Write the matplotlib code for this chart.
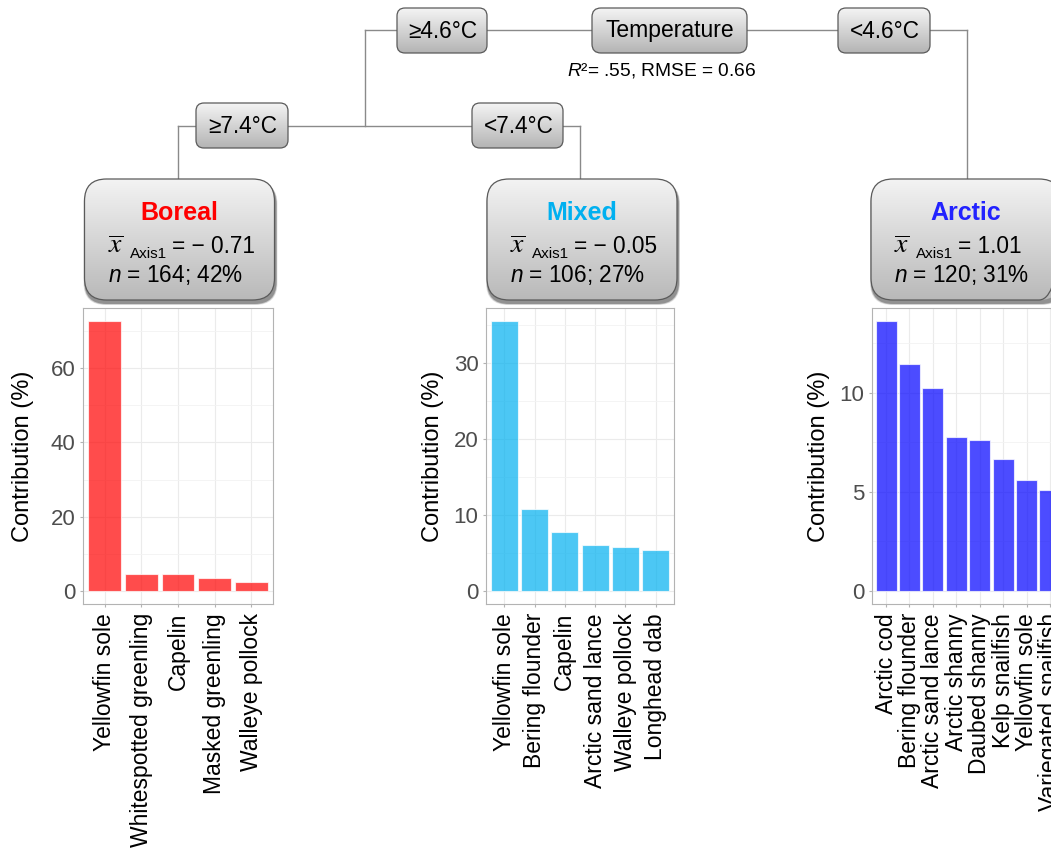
import numpy as np
import matplotlib
matplotlib.use("Agg")
import matplotlib.pyplot as plt
from matplotlib.patches import FancyBboxPatch
from matplotlib.ticker import MultipleLocator

plt.rcParams['font.family'] = ['Liberation Sans', 'DejaVu Sans']
plt.rcParams['mathtext.fontset'] = 'custom'
plt.rcParams['mathtext.rm'] = 'Liberation Sans'
plt.rcParams['mathtext.it'] = 'Liberation Sans:italic'

# species contributions per temperature group
boreal_species = ["Yellowfin sole", "Whitespotted greenling", "Capelin",
                  "Masked greenling", "Walleye pollock"]
boreal_contrib = [72.7, 4.6, 4.4, 3.3, 2.3]

mixed_species = ["Yellowfin sole", "Bering flounder", "Capelin",
                 "Arctic sand lance", "Walleye pollock", "Longhead dab"]
mixed_contrib = [35.5, 10.8, 7.7, 6.0, 5.7, 5.3]

arctic_species = ["Arctic cod", "Bering flounder", "Arctic sand lance",
                  "Arctic shanny", "Daubed shanny", "Kelp snailfish",
                  "Yellowfin sole", "Variegated snailfish"]
arctic_contrib = [13.6, 11.45, 10.25, 7.75, 7.6, 6.65, 5.6, 5.1]

group_names = ["Boreal", "Mixed", "Arctic"]
group_colors = ["#ff0000", "#00b0f0", "#2222ff"]
bar_colors = ["#ff0000", "#00b0f0", "#0000ff"]
group_means = ["= \u2212 0.71", "= \u2212 0.05", "= 1.01"]
group_n = ["164; 42%", "106; 27%", "120; 31%"]

split_labels = ["\u22654.6\u00b0C", "<4.6\u00b0C", "\u22657.4\u00b0C", "<7.4\u00b0C"]
fit_text = "$R$\u00b2= .55, RMSE = 0.66"

W, H = 1051, 848
fig = plt.figure(figsize=(W / 100, H / 100), dpi=100)
fig.patch.set_facecolor("white")

# overlay in pixel coordinates (y downwards) for the tree
tree = fig.add_axes([0, 0, 1, 1])
tree.set_xlim(0, W)
tree.set_ylim(H, 0)
tree.axis("off")

line_kw = dict(color="#8a8a8a", lw=1.0, zorder=1)
tree.plot([365, 967], [30, 30], **line_kw)
tree.plot([365, 365], [30, 126], **line_kw)
tree.plot([967, 967], [30, 182], **line_kw)
tree.plot([178, 580], [126, 126], **line_kw)
tree.plot([178, 178], [126, 182], **line_kw)
tree.plot([580, 580], [126, 182], **line_kw)


def gradient_box(x0, y0, x1, y1, r, top="#f4f4f4", bottom="#b4b4b4", shadow=False):
    if shadow:
        for k, a in [(4, 0.10), (3, 0.15), (2, 0.25)]:
            sh = FancyBboxPatch((x0 + 1 - k / 2, y0 + 3), x1 - x0 + k, y1 - y0 + k / 2,
                                boxstyle=f"round,pad=0,rounding_size={r}",
                                fc="black", ec="none", alpha=a, zorder=2)
            tree.add_patch(sh)
    patch = FancyBboxPatch((x0, y0), x1 - x0, y1 - y0,
                           boxstyle=f"round,pad=0,rounding_size={r}",
                           fc="none", ec="#5a5a5a", lw=0.9, zorder=4)
    tree.add_patch(patch)
    c0 = np.array(matplotlib.colors.to_rgb(top))
    c1 = np.array(matplotlib.colors.to_rgb(bottom))
    t = np.linspace(0, 1, 64)[:, None]
    img = (c0 * (1 - t) + c1 * t)[:, None, :]
    im = tree.imshow(img, extent=(x0, x1, y1, y0), origin="upper",
                     aspect="auto", zorder=3, interpolation="bilinear")
    im.set_clip_path(patch)


# split nodes
gradient_box(592, 8, 747, 53, 9)
tree.text(669.5, 31, "Temperature", fontsize=16.5, ha="center", va="center", zorder=5)
tree.text(662, 70, fit_text, fontsize=13.8, ha="center", va="center", zorder=5)

small_boxes = [(397, 8, 487, 53), (838, 8, 930, 53), (196, 103, 288, 148), (472, 103, 563, 148)]
for (x0, y0, x1, y1), lab in zip(small_boxes, split_labels):
    gradient_box(x0, y0, x1, y1, 8)
    tree.text((x0 + x1) / 2 + 1, (y0 + y1) / 2 + 1, lab, fontsize=16.3,
              ha="center", va="center", zorder=5)

# leaf nodes
leaf_centers = [179.5, 582, 966]
for cx, name, col, mean, n in zip(leaf_centers, group_names, group_colors,
                                  group_means, group_n):
    gradient_box(cx - 95, 179, cx + 95, 300, 22, top="#f3f3f3", bottom="#b9b9b9",
                 shadow=True)
    tree.text(cx, 220, name, fontsize=18, fontweight="bold", color=col,
              ha="center", va="baseline", zorder=5)
    lx = cx - 72
    tree.text(lx, 253, r"$\overline{x}$", fontsize=20, math_fontfamily="stix",
              ha="left", va="baseline", zorder=5)
    tree.text(lx + 22, 258, "Axis1", fontsize=11, ha="left", va="baseline", zorder=5)
    tree.text(lx + 64, 253, mean, fontsize=16.3, ha="left", va="baseline", zorder=5)
    tree.text(lx, 282, "$n$ = " + n, fontsize=16.3, ha="left", va="baseline", zorder=5)


def bar_panel(x0, x1, species, values, color, major, label_x):
    ax = fig.add_axes([x0 / W, 1 - 604 / H, (x1 - x0) / W, (604 - 308) / H])
    pos = np.arange(len(species))
    ax.bar(pos, values, width=0.9, color=color, alpha=0.7,
           edgecolor="white", linewidth=0.8, zorder=3)
    ax.set_xlim(-0.6, len(species) - 0.4)
    top = max(values)
    ax.set_ylim(-0.05 * top, 1.05 * top)
    ax.set_xticks(pos)
    ax.set_xticklabels(species, rotation=90, fontsize=16.5, color="black")
    ax.yaxis.set_major_locator(MultipleLocator(major))
    ax.yaxis.set_minor_locator(MultipleLocator(major / 2))
    ax.tick_params(axis="y", labelsize=16, labelcolor="#4d4d4d", length=2.5,
                   color="#b3b3b3", width=0.8, pad=3)
    ax.tick_params(axis="y", which="minor", length=0)
    ax.tick_params(axis="x", length=2.5, color="#b3b3b3", width=0.8, pad=4)
    ax.set_axisbelow(True)
    ax.grid(True, axis="y", which="major", color="#ebebeb", lw=0.8)
    ax.grid(True, axis="y", which="minor", color="#f3f3f3", lw=0.6)
    ax.grid(True, axis="x", which="major", color="#ebebeb", lw=0.8)
    for sp in ax.spines.values():
        sp.set_color("#b3b3b3")
        sp.set_linewidth(0.8)
    ax.set_ylabel("Contribution (%)", fontsize=17)
    ax.yaxis.set_label_coords((label_x - x0) / (x1 - x0), 0.5)
    return ax


bar_panel(83, 273, boreal_species, boreal_contrib, bar_colors[0], 20, 34)
bar_panel(486, 674, mixed_species, mixed_contrib, bar_colors[1], 10, 444)
bar_panel(872, 1064, arctic_species, arctic_contrib, bar_colors[2], 5, 830)

fig.savefig("out.png", dpi=100)
